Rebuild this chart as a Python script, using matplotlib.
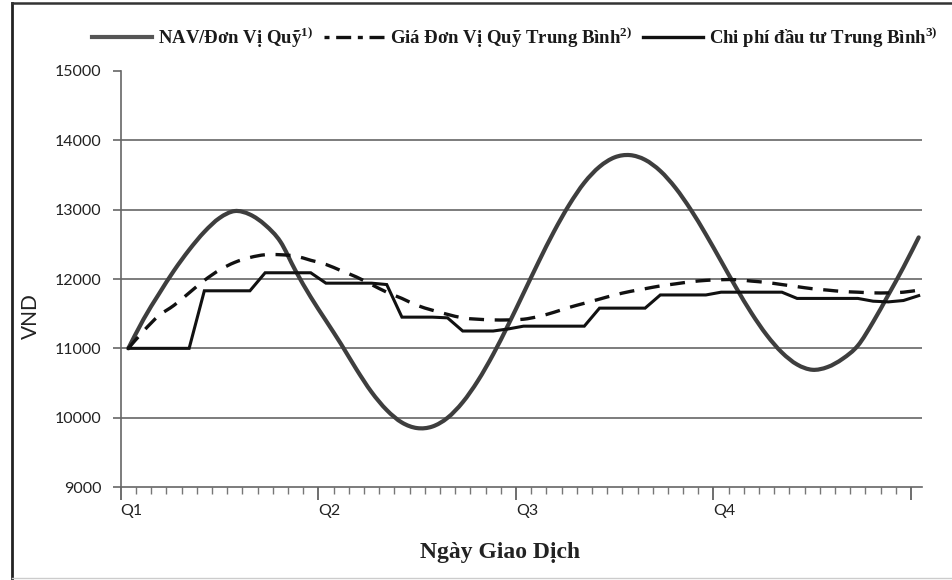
import matplotlib
matplotlib.use("Agg")
import matplotlib.pyplot as plt
from matplotlib.lines import Line2D
from matplotlib.path import Path
from matplotlib.patches import PathPatch
import numpy as np

plt.rcParams['mathtext.fontset'] = 'custom'
plt.rcParams['mathtext.rm'] = 'Liberation Serif:bold'
plt.rcParams['mathtext.it'] = 'Liberation Serif:bold'
plt.rcParams['mathtext.bf'] = 'Liberation Serif:bold'

# weekly values, 53 points over the year
nav = [11000, 11420, 11780, 12120, 12420, 12680, 12880, 12980, 12930, 12780,
       12540, 12120, 11740, 11400, 11060, 10700, 10370, 10110, 9930, 9850,
       9872, 9998, 10223, 10533, 10912, 11341, 11795, 12250, 12683, 13068,
       13389, 13619, 13755, 13787, 13719, 13558, 13314, 13002, 12643, 12258,
       11871, 11508, 11192, 10940, 10767, 10691, 10730, 10850, 11040, 11380,
       11770, 12170, 12600]
avg_price = [11000, 11250, 11470, 11620, 11800, 11980, 12130, 12240, 12310, 12350,
             12350, 12330, 12270, 12210, 12120, 12030, 11920, 11810, 11720, 11620,
             11550, 11490, 11440, 11420, 11410, 11410, 11420, 11460, 11520, 11590,
             11650, 11710, 11770, 11820, 11860, 11900, 11930, 11960, 11980, 11990,
             11990, 11970, 11950, 11920, 11890, 11860, 11840, 11820, 11810, 11800,
             11800, 11810, 11840]
avg_cost = [11000, 11000, 11000, 11000, 11000, 11830, 11830, 11830, 11830, 12090,
            12090, 12090, 12090, 11940, 11940, 11940, 11940, 11920, 11450, 11450,
            11450, 11440, 11250, 11250, 11250, 11280, 11320, 11320, 11320, 11320,
            11320, 11580, 11580, 11580, 11580, 11770, 11770, 11770, 11770, 11810,
            11810, 11810, 11810, 11810, 11720, 11720, 11720, 11720, 11720, 11680,
            11670, 11690, 11760]
quarters = ['Q1', 'Q2', 'Q3', 'Q4', '']
labels = ['NAV/Đơn Vị Quỹ$^{1)}$', 'Giá Đơn Vị Quỹ Trung Bình$^{2)}$',
          'Chi phí đầu tư Trung Bình$^{3)}$']

x = np.arange(len(nav)) + 0.5


def smooth_path(xs, ys):
    # excel-like smoothed line: bezier through every data point
    pts = np.column_stack([xs, ys]).astype(float)
    n = len(pts)
    verts = [pts[0]]
    codes = [Path.MOVETO]
    for i in range(n - 1):
        p0 = pts[max(i - 1, 0)]
        p1 = pts[i]
        p2 = pts[i + 1]
        p3 = pts[min(i + 2, n - 1)]
        verts += [p1 + (p2 - p0) / 6, p2 - (p3 - p1) / 6, p2]
        codes += [Path.CURVE4] * 3
    return Path(verts, codes)


fig = plt.figure(figsize=(9.53, 5.80), dpi=100)
ax = fig.add_axes([0.1267, 0.1603, 0.8408, 0.7173])

ax.add_patch(PathPatch(smooth_path(x, nav), fill=False, edgecolor='#3e3e3e',
                       lw=3.0, capstyle='round', zorder=3))
ax.add_patch(PathPatch(smooth_path(x, avg_price), fill=False, edgecolor='#111111',
                       lw=2.4, linestyle=(0, (4.5, 3.2)), zorder=4))
ax.plot(x, avg_cost, color='#111111', lw=2.2, solid_joinstyle='miter', zorder=5)

ax.set_ylim(9000, 15000)
ax.set_xlim(0, 52.72)
ax.set_yticks(range(9000, 15001, 1000))
for v in range(10000, 14001, 1000):
    ax.axhline(v, color='#666666', lw=1.2, zorder=1)

ax.set_xticks([0, 13, 26, 39, 52])
ax.set_xticklabels(quarters, ha='left')
ax.set_xticks(range(0, 53), minor=True)
ax.tick_params(axis='x', which='major', length=9, width=1.2, color='#555555',
               pad=3, labelsize=11.5, labelcolor='#222222')
ax.tick_params(axis='x', which='minor', length=5, width=1.0, color='#777777')
ax.tick_params(axis='y', length=6, width=1.2, color='#666666', pad=8,
               labelsize=11.5, labelcolor='#222222')
for lab in ax.get_xticklabels() + ax.get_yticklabels():
    lab.set_family(['Lato', 'DejaVu Sans'])

for side in ['top', 'right']:
    ax.spines[side].set_visible(False)
for side in ['left', 'bottom']:
    ax.spines[side].set_color('#666666')
    ax.spines[side].set_linewidth(1.2)

fig.text(0.032, 0.455, 'VND', rotation=90, ha='center', va='center',
         fontsize=15, family=['Lato', 'DejaVu Sans'], color='#222222')
fig.text(0.525, 0.047, 'Ngày Giao Dịch', ha='center', va='center',
         fontsize=17, fontweight='bold', family=['Liberation Serif', 'DejaVu Serif'],
         color='#222222')

handles = [Line2D([], [], color='#555555', lw=3.0),
           Line2D([], [], color='#111111', lw=2.4, linestyle=(0, (1.5, 2.0, 4.5, 2.0))),
           Line2D([], [], color='#111111', lw=2.4)]
leg = fig.legend(handles, labels, loc='center', bbox_to_anchor=(0.54, 0.935),
                 ncol=3, frameon=False, handlelength=3.2, handletextpad=0.3,
                 columnspacing=0.6,
                 prop={'family': 'Liberation Serif', 'weight': 'bold', 'size': 13.5})
for t in leg.get_texts():
    t.set_color('#1a1a1a')

# scanned page frame
fig.add_artist(Line2D([12 / 953, 12 / 953], [0, 577 / 580], transform=fig.transFigure,
                      color='#222222', lw=2.0))
fig.add_artist(Line2D([12 / 953, 951 / 953], [577 / 580, 577 / 580], transform=fig.transFigure,
                      color='#333333', lw=1.8))
fig.add_artist(Line2D([12 / 953, 951 / 953], [2 / 580, 2 / 580], transform=fig.transFigure,
                      color='#cccccc', lw=1.0))

fig.savefig('out.png', dpi=100)
